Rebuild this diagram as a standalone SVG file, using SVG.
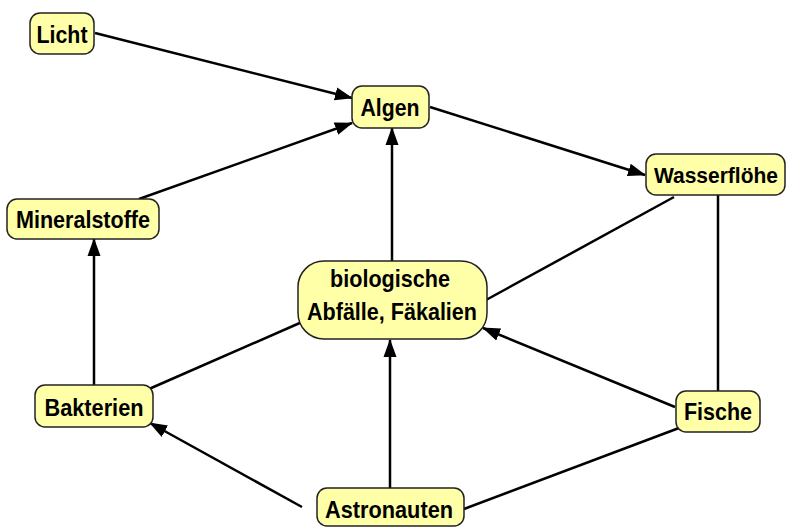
<svg xmlns="http://www.w3.org/2000/svg" width="787" height="529" viewBox="0 0 787 529">
<style>
.box{fill:#ffffa8;stroke:#222;stroke-width:1.5}
.lbl{font-family:"Liberation Sans",Arial,sans-serif;font-weight:bold;font-size:24px;fill:#000;text-anchor:middle}
.c{stroke:#000;stroke-width:2.5;fill:none}
.a{marker-end:url(#ah)}
</style>
<defs>
<marker id="ah" markerUnits="userSpaceOnUse" markerWidth="18" markerHeight="14" refX="17" refY="7" orient="auto">
<path d="M0,0.5 L18,7 L0,13.5 z" fill="#000"/>
</marker>
</defs>
<rect width="787" height="529" fill="#fff"/>
<g id="connectors">
<line class="c a" x1="95" y1="33" x2="352" y2="98"/>
<line class="c a" x1="139" y1="199" x2="352" y2="123"/>
<line class="c a" x1="392" y1="261" x2="392" y2="128"/>
<line class="c a" x1="430" y1="107" x2="645" y2="175"/>
<line class="c" x1="674" y1="197" x2="486" y2="300"/>
<line class="c" x1="718" y1="195" x2="718" y2="391"/>
<line class="c a" x1="675" y1="407" x2="483" y2="328"/>
<line class="c" x1="679" y1="428" x2="464" y2="509"/>
<line class="c a" x1="390" y1="488" x2="390" y2="340"/>
<line class="c a" x1="302" y1="507" x2="150" y2="423"/>
<line class="c" x1="149" y1="389" x2="302" y2="322"/>
<line class="c a" x1="94" y1="385" x2="94" y2="239"/>
</g>
<g id="licht">
<rect class="box" x="30" y="13" width="64" height="41" rx="10"/>
<text class="lbl" x="62" y="43" textLength="51" lengthAdjust="spacingAndGlyphs">Licht</text>
</g>
<g id="algen">
<rect class="box" x="352" y="86" width="77" height="42" rx="10"/>
<text class="lbl" x="390" y="116" textLength="59" lengthAdjust="spacingAndGlyphs">Algen</text>
</g>
<g id="mineralstoffe">
<rect class="box" x="7" y="199" width="152" height="40" rx="10"/>
<text class="lbl" x="83" y="228" textLength="134" lengthAdjust="spacingAndGlyphs">Mineralstoffe</text>
</g>
<g id="wasserfloehe">
<rect class="box" x="646" y="154" width="139" height="41" rx="10"/>
<text class="lbl" x="716" y="183" style="font-size:22px" textLength="124" lengthAdjust="spacingAndGlyphs">Wasserflöhe</text>
</g>
<g id="abfaelle">
<rect class="box" x="298" y="261" width="189" height="78" rx="26"/>
<text class="lbl" x="390" y="287" textLength="120" lengthAdjust="spacingAndGlyphs">biologische</text>
<text class="lbl" x="392" y="320" textLength="170" lengthAdjust="spacingAndGlyphs">Abfälle, Fäkalien</text>
</g>
<g id="bakterien">
<rect class="box" x="35" y="385" width="118" height="42" rx="10"/>
<text class="lbl" x="94" y="416" textLength="99" lengthAdjust="spacingAndGlyphs">Bakterien</text>
</g>
<g id="fische">
<rect class="box" x="676" y="391" width="84" height="41" rx="10"/>
<text class="lbl" x="718" y="420" textLength="68" lengthAdjust="spacingAndGlyphs">Fische</text>
</g>
<g id="astronauten">
<rect class="box" x="317" y="488" width="147" height="38" rx="10"/>
<text class="lbl" x="389" y="518" textLength="128" lengthAdjust="spacingAndGlyphs">Astronauten</text>
</g>
</svg>
